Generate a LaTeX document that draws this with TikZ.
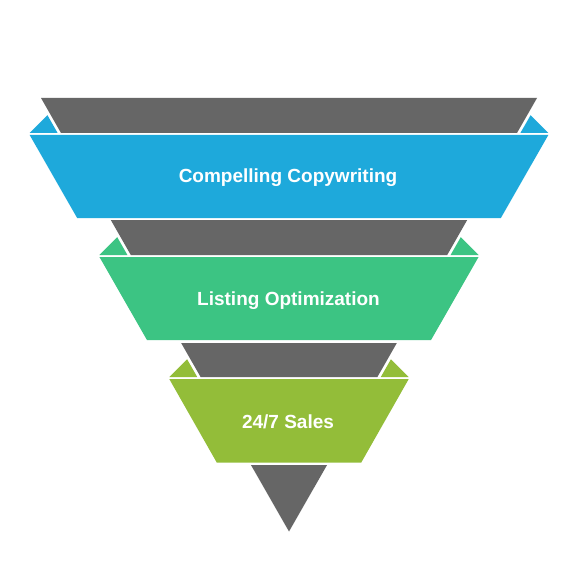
\documentclass[tikz,border=0pt]{standalone}
\usepackage{fontspec}
\setmainfont{Liberation Sans}
\definecolor{funnelgray}{HTML}{666666}
\definecolor{bandblue}{HTML}{1EA9DB}
\definecolor{bandgreen}{HTML}{3CC483}
\definecolor{bandlime}{HTML}{93BD39}
\tikzset{
  label/.style={text=white, font=\bfseries\fontsize{19}{21}\selectfont, inner sep=0pt, anchor=base},
}
\begin{document}
\begin{tikzpicture}[x=1pt,y=-1pt]
\useasboundingbox[fill=white] (0,0) rectangle (580,580);
% funnel pieces
\fill[funnelgray] (41,98) -- (537,98) -- (516.98,133) -- (61.02,133) -- cycle;
\fill[funnelgray] (110.80,220) -- (467.20,220) -- (447.18,255) -- (130.82,255) -- cycle;
\fill[funnelgray] (181.16,343) -- (396.84,343) -- (377.38,377) -- (200.62,377) -- cycle;
\fill[funnelgray] (250.96,465) -- (327.04,465) -- (289,531.5) -- cycle;
% blue band
\fill[bandblue] (29.67,133) -- (47.45,115.22) -- (57.62,133) -- cycle;
\fill[bandblue] (548.33,133) -- (530.55,115.22) -- (520.38,133) -- cycle;
\fill[bandblue] (29.67,135) -- (548.33,135) -- (500.85,218) -- (77.15,218) -- cycle;
% green band
\fill[bandgreen] (99.46,255) -- (117.25,237.21) -- (127.42,255) -- cycle;
\fill[bandgreen] (478.54,255) -- (460.75,237.21) -- (450.58,255) -- cycle;
\fill[bandgreen] (99.46,257) -- (478.54,257) -- (431.05,340) -- (146.95,340) -- cycle;
% lime band
\fill[bandlime] (169.26,377) -- (187.05,359.21) -- (197.22,377) -- cycle;
\fill[bandlime] (408.74,377) -- (390.95,359.21) -- (380.78,377) -- cycle;
\fill[bandlime] (169.26,379) -- (408.74,379) -- (361.26,462.5) -- (216.74,462.5) -- cycle;
% labels
\node[label] (copy) at (288,182.7) {Compelling Copywriting};
\node[label] (list) at (288.5,305.5) {Listing Optimization};
\node[label] (sales) at (288,428.3) {24/7 Sales};
\end{tikzpicture}
\end{document}
